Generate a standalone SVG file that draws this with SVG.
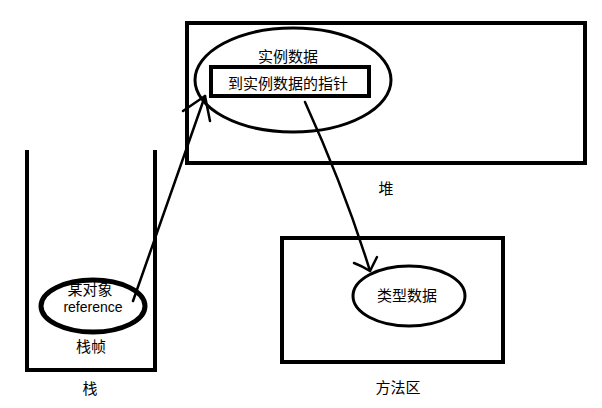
<svg xmlns="http://www.w3.org/2000/svg" width="602" height="408" viewBox="0 0 602 408">
<style>
.box{fill:none;stroke:#000;stroke-width:4}
.ell{fill:none;stroke:#000;stroke-width:3}
.t{font-family:"Liberation Sans","Noto Sans CJK SC",sans-serif;font-size:15px;fill:#000;text-anchor:middle}
.c{fill:none;stroke:#000;stroke-width:2.5;stroke-linecap:round;stroke-linejoin:round}
</style>
<rect width="602" height="408" fill="#fff"/>
<g id="heap">
<rect class="box" x="187" y="23" width="398" height="140"/>
<text class="t" x="386" y="194">堆</text>
</g>
<g id="instance">
<ellipse class="ell" cx="293" cy="80" rx="98" ry="52"/>
<text class="t" x="288" y="62">实例数据</text>
</g>
<g id="pointer">
<rect class="box" x="211" y="67" width="158" height="29"/>
<text class="t" x="288" y="89">到实例数据的指针</text>
</g>
<g id="stack">
<path class="box" d="M27 150 V370 H155 V150"/>
<text class="t" x="90" y="394">栈</text>
<text class="t" x="91" y="352">栈帧</text>
</g>
<g id="ref">
<ellipse fill="none" stroke="#000" stroke-width="5" cx="93" cy="306" rx="52" ry="26"/>
<text class="t" x="90" y="295">某对象</text>
<text class="t" x="93" y="312" style="font-size:14px">reference</text>
</g>
<g id="method">
<rect class="box" x="282" y="238" width="221" height="124"/>
<text class="t" x="398" y="393">方法区</text>
</g>
<g id="type">
<ellipse class="ell" cx="409" cy="296" rx="56" ry="30"/>
<text class="t" x="407" y="301">类型数据</text>
</g>
<g id="connectors">
<path class="c" d="M133 301 L205 96"/>
<path class="c" d="M183 111 L205 96 L210 121"/>
<path class="c" d="M305 102 Q345 190 370 271"/>
<path class="c" d="M354 263 Q362 266 370 271 L377 257"/>
</g>
</svg>
